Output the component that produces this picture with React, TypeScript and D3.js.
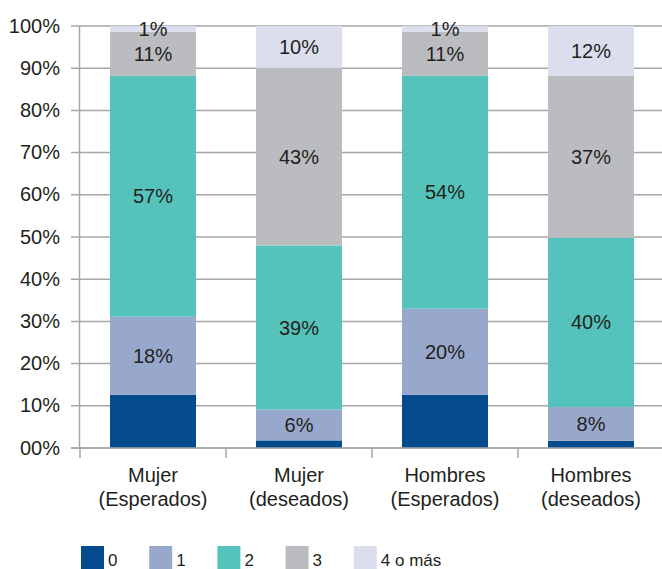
import React from "react";
import * as d3 from "d3";

const categories: string[][] = [
  ["Mujer", "(Esperados)"],
  ["Mujer", "(deseados)"],
  ["Hombres", "(Esperados)"],
  ["Hombres", "(deseados)"],
];
const seriesNames = ["0", "1", "2", "3", "4 o más"];
const s0 = [12.6, 1.8, 12.6, 1.7];
const s1 = [18.5, 7.3, 20.4, 8.0];
const s2 = [57.1, 38.9, 55.2, 40.1];
const s3 = [10.4, 42.1, 10.4, 38.4];
const s4 = [1.4, 9.9, 1.4, 11.8];
const l1 = ["18%", "6%", "20%", "8%"];
const l2 = ["57%", "39%", "54%", "40%"];
const l3 = ["11%", "43%", "11%", "37%"];
const l4 = ["1%", "10%", "1%", "12%"];
const yTicks = [0, 10, 20, 30, 40, 50, 60, 70, 80, 90, 100];
const yTickLabels = ["00%", "10%", "20%", "30%", "40%", "50%", "60%", "70%", "80%", "90%", "100%"];

const colors = ["#034b8c", "#98a8cc", "#55c3bb", "#bbbcbf", "#dadeed"];
const FONT = "'Liberation Sans', Arial, Helvetica, sans-serif";
const TEXT = "#231f20";
const GRID = "#a6a6a6";

export default function App() {
  const W = 662, H = 569;
  const x0 = 80, step = 146;
  const pi = 60 / 146;
  const x = d3.scaleBand<number>()
    .domain(d3.range(categories.length))
    .range([x0, x0 + step * categories.length])
    .paddingInner(pi)
    .paddingOuter(pi / 2);
  const y = d3.scaleLinear().domain([0, 100]).range([448, 26]);

  const rows = categories.map((_, i) => ({ i, a: s0[i], b: s1[i], c: s2[i], d: s3[i], e: s4[i] }));
  const keys = ["a", "b", "c", "d", "e"];
  const stacked = d3.stack<any>().keys(keys)(rows);
  const labelSets: (string[] | null)[] = [null, l1, l2, l3, l4];

  const bandStart = (i: number) => (x(i) as number) - (x.step() * pi) / 2;

  return (
    <svg width={W} height={H} style={{ position: "absolute", left: 0, top: 0, background: "#fff" }} fontFamily={FONT}>
      {yTicks.map((t, k) => (
        <g key={t}>
          <line x1={71} x2={W} y1={y(t)} y2={y(t)} stroke={GRID} strokeWidth={1.5} />
          <text x={60} y={y(t)} dy="0.33em" textAnchor="end" fontSize={20} fill={TEXT}>
            {yTickLabels[k]}
          </text>
        </g>
      ))}
      <line x1={79.5} x2={79.5} y1={y(100)} y2={y(0)} stroke={GRID} strokeWidth={1.5} />
      {stacked.map((layer, si) => (
        <g key={si} fill={colors[si]}>
          {layer.map((d, i) => (
            <rect key={i} x={x(i)} width={x.bandwidth()} y={y(d[1])} height={y(d[0]) - y(d[1])} />
          ))}
        </g>
      ))}
      <line x1={71} x2={W} y1={y(0)} y2={y(0)} stroke={GRID} strokeWidth={1.5} />
      {categories.map((_, i) => (
        <line key={i} x1={bandStart(i)} x2={bandStart(i)} y1={y(0)} y2={y(0) + 10} stroke={GRID} strokeWidth={1.5} />
      ))}
      {stacked.map((layer, si) =>
        labelSets[si]
          ? layer.map((d, i) => (
              <text key={`${si}-${i}`} x={(x(i) as number) + x.bandwidth() / 2} y={(y(d[0]) + y(d[1])) / 2}
                dy="0.35em" textAnchor="middle" fontSize={20} fill={TEXT}>
                {(labelSets[si] as string[])[i]}
              </text>
            ))
          : null
      )}
      {categories.map((lines, i) => (
        <text key={i} x={(x(i) as number) + x.bandwidth() / 2} textAnchor="middle" fontSize={20} fill={TEXT}>
          <tspan x={(x(i) as number) + x.bandwidth() / 2} y={481.5}>{lines[0]}</tspan>
          <tspan x={(x(i) as number) + x.bandwidth() / 2} y={505.5}>{lines[1]}</tspan>
        </text>
      ))}
      {seriesNames.map((n, k) => {
        const lx = 81 + k * 68.2;
        return (
          <g key={n}>
            <rect x={lx} y={546} width={23} height={30} fill={colors[k]} />
            <text x={lx + 27} y={566} fontSize={17} fill={TEXT}>{n}</text>
          </g>
        );
      })}
    </svg>
  );
}
